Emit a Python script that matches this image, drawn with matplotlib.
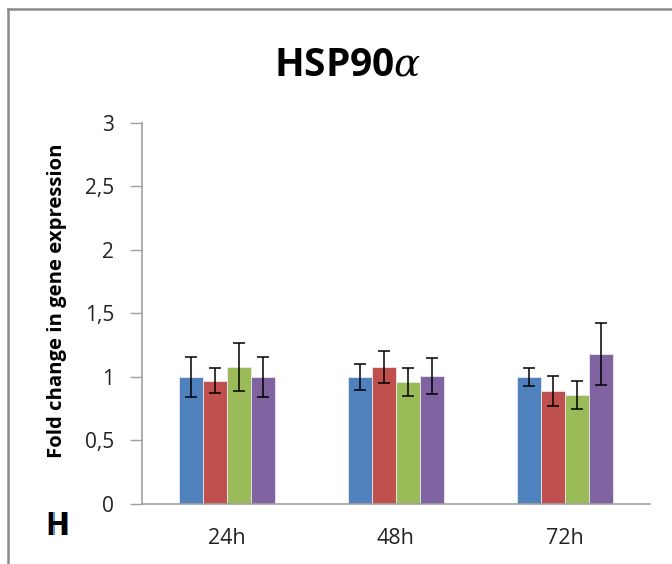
import numpy as np
import matplotlib.pyplot as plt
import matplotlib.patheffects as pe
from matplotlib.lines import Line2D

# values
times = ['24h', '48h', '72h']
s1 = [1.00, 1.00, 1.00]
s2 = [0.97, 1.08, 0.89]
s3 = [1.08, 0.96, 0.86]
s4 = [1.00, 1.01, 1.18]
e1 = [0.155, 0.10, 0.07]
e2 = [0.10, 0.125, 0.117]
e3 = [0.187, 0.107, 0.11]
e4 = [0.155, 0.142, 0.243]
yticks = [0, 0.5, 1, 1.5, 2, 2.5, 3]
ytick_labels = ['0', '0,5', '1', '1,5', '2', '2,5', '3']

colors = ['#4F81BD', '#C0504D', '#9BBB59', '#8064A2']

plt.rcParams['font.family'] = ['Open Sans', 'DejaVu Sans']
plt.rcParams['mathtext.fontset'] = 'dejavuserif'

fig = plt.figure(figsize=(6.72, 5.64), dpi=100)
ax = fig.add_axes([0.2113, 0.1064, 0.7557, 0.6756])

x = np.arange(len(times))
w = 0.142
series = [s1, s2, s3, s4]
errs = [e1, e2, e3, e4]
for i in range(4):
    ax.bar(x + (i - 1.5) * w, series[i], w, color=colors[i],
           edgecolor='#e8e8f0', linewidth=0.6, zorder=2)
    ax.errorbar(x + (i - 1.5) * w, series[i], yerr=errs[i], fmt='none',
                ecolor='black', elinewidth=1.1, capsize=4.3, capthick=1.1, zorder=3)

ax.set_xlim(-0.5, 2.5)
ax.set_ylim(0, 3)
ax.set_yticks(yticks)
ax.set_yticklabels(ytick_labels, fontsize=15, color='#222222')
ax.set_xticks(x)
ax.set_xticklabels(times, fontsize=15.5, color='#222222')
ax.tick_params(axis='x', length=0, pad=17)
ax.tick_params(axis='y', length=9, width=1, color='#a0a0a0', pad=11)
for s in ['top', 'right']:
    ax.spines[s].set_visible(False)
for s in ['left', 'bottom']:
    ax.spines[s].set_color('#a0a0a0')
    ax.spines[s].set_linewidth(1.2)

fig.text(0.518, 1 - 75/564, 'HSP90' + r'$\alpha$', fontsize=28, fontweight='bold',
         ha='center', va='baseline')
fig.text(0.085, 0.466, 'Fold change in gene expression', fontsize=14.6,
         fontweight='bold', rotation=90, ha='center', va='center')

# panel letter with slight colour fringe
fig.text(58/672, 1 - 535/564, 'H', fontsize=23, fontweight='bold', color='black',
         ha='center', va='baseline',
         path_effects=[pe.withSimplePatchShadow(offset=(-0.8, 0), shadow_rgbFace='#e89a40', alpha=0.9),
                       pe.withSimplePatchShadow(offset=(0.8, 0), shadow_rgbFace='#3090e0', alpha=0.9),
                       pe.Normal()])

# frame lines at top and left
fig.add_artist(Line2D([8/672, 1], [1 - 9/564, 1 - 9/564], color='#8a8a8a',
                      linewidth=1.8, transform=fig.transFigure))
fig.add_artist(Line2D([8/672, 8/672], [0, 1 - 9/564], color='#8a8a8a',
                      linewidth=1.8, transform=fig.transFigure))

fig.savefig('out.png', dpi=100)
